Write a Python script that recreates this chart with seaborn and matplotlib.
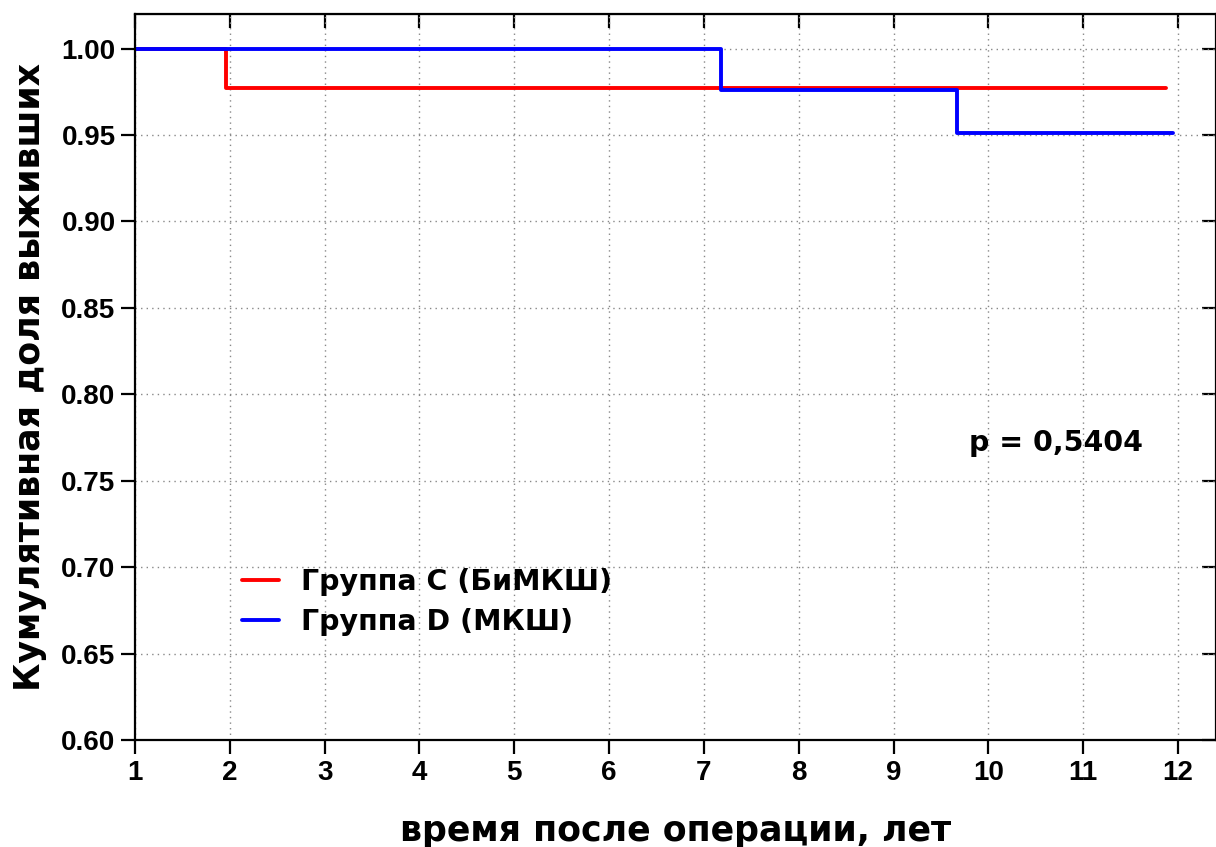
import numpy as np
import pandas as pd
import matplotlib
matplotlib.use("Agg")
import matplotlib.pyplot as plt
import seaborn as sns

# Kaplan-Meier curves
time_c = [1.0, 1.96, 11.87]
surv_c = [1.0, 0.977, 0.977]
time_d = [1.0, 7.18, 9.67, 11.95]
surv_d = [1.0, 0.976, 0.951, 0.951]
groups = ["Группа C (БиМКШ)", "Группа D (МКШ)"]
colors = ["#ff0000", "#0000ff"]
x_ticks = list(range(1, 13))
y_ticks = [0.60, 0.65, 0.70, 0.75, 0.80, 0.85, 0.90, 0.95, 1.00]
p_text = "p = 0,5404"

df = pd.concat([
    pd.DataFrame({"t": time_c, "s": surv_c, "group": groups[0]}),
    pd.DataFrame({"t": time_d, "s": surv_d, "group": groups[1]}),
])

sns.set_style("ticks")
plt.rcParams["font.family"] = ["Liberation Sans", "DejaVu Sans"]
plt.rcParams["font.weight"] = "bold"
for k in ["text.color", "axes.labelcolor", "xtick.color", "ytick.color"]:
    plt.rcParams[k] = "black"

heavy = ["DejaVu Sans"]

fig = plt.figure(figsize=(12.16, 8.47), dpi=100)
ax = fig.add_axes([0.111, 0.126, 0.889, 0.8575])

sns.lineplot(data=df, x="t", y="s", hue="group", palette=colors, estimator=None,
             drawstyle="steps-post", linewidth=2.8, ax=ax, legend=True)

ax.set_xlim(1, 12.4)
ax.set_ylim(0.6, 1.02)
ax.set_xticks(x_ticks)
ax.set_yticks(y_ticks)
ax.set_yticklabels([f"{v:.2f}" for v in y_ticks])
ax.grid(True, linestyle=(0, (1, 3)), color="#888888", linewidth=1.0)
ax.set_axisbelow(True)
ax.tick_params(direction="out", length=10, width=1.6, labelsize=20, pad=4)
for s in ax.spines.values():
    s.set_linewidth(1.6)
    s.set_color("black")

# inward ticks on the top and right sides
top = ax.secondary_xaxis("top")
top.set_xticks(x_ticks)
top.tick_params(direction="in", length=10, width=1.6, labeltop=False)
right = ax.secondary_yaxis("right")
right.set_yticks(y_ticks)
right.tick_params(direction="in", length=10, width=1.6, labelright=False)

ax.set_xlabel("время после операции, лет", fontsize=25, fontweight="bold",
              family=heavy, labelpad=20)
ax.set_ylabel("Кумулятивная доля выживших", fontsize=25, fontweight="bold",
              family=heavy, labelpad=10)

ax.text(9.79, 0.772, p_text, fontsize=20.5, fontweight="bold", family=heavy, va="center")

ax.legend(loc="upper left", bbox_to_anchor=(0.075, 0.272), frameon=False,
          handlelength=1.3, handletextpad=0.8, labelspacing=0.4,
          prop={"weight": "bold", "size": 20.5, "family": heavy})

fig.savefig("out.png", dpi=100)
